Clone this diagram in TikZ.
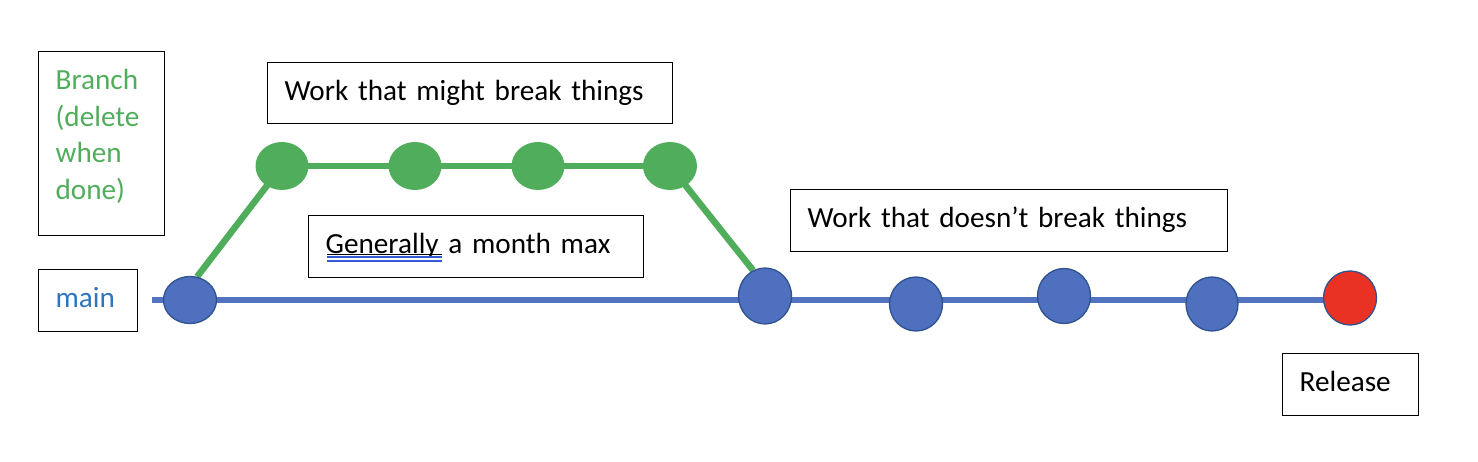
\documentclass[tikz,border=0pt]{standalone}
\usepackage{fontspec}
\setmainfont{Carlito}
\usetikzlibrary{shapes.geometric}
\pgfdeclarelayer{background}
\pgfsetlayers{background,main}
\definecolor{cblue}{RGB}{78,112,190}
\definecolor{cline}{RGB}{82,116,192}
\definecolor{cedge}{RGB}{47,82,143}
\definecolor{cgreen}{RGB}{80,173,91}
\definecolor{cred}{RGB}{233,50,35}
\definecolor{ctblue}{RGB}{46,116,190}
\definecolor{culine}{RGB}{50,90,215}
\tikzset{
  x=1pt, y=-1pt,
  txt/.style={font=\fontsize{29.2pt}{36.5pt}\selectfont},
  box/.style={txt, draw=black, line width=1.3pt, anchor=north west, align=left,
    inner xsep=17pt, inner ysep=0pt},
  onebox/.style={box, text height=20pt, text depth=6pt},
  bcommit/.style={ellipse, draw=cedge, line width=1.3pt, fill=cblue, inner sep=0pt},
  rcommit/.style={ellipse, draw=cedge, line width=1.3pt, fill=cred, inner sep=0pt},
  gcommit/.style={ellipse, fill=cgreen, inner sep=0pt, minimum width=53pt, minimum height=48pt},
  mainline/.style={draw=cline, line width=6.5pt},
  branchline/.style={draw=cgreen, line width=6.5pt},
}
\begin{document}
\begin{tikzpicture}
\path[use as bounding box] (0,0) rectangle (1478,462);

% text boxes
\node[box, text=cgreen, text width=92pt, minimum height=184pt] (branch) at (38,51)
  {Branch\\(delete\\when\\done)\rule[-19pt]{0pt}{0pt}};
\node[onebox, text=ctblue, text width=65pt, minimum height=62pt] (mainlbl) at (38,269) {main};
\node[onebox, text width=371pt, minimum height=61pt] (wmb) at (267,62) {\mbox{Work that might break things}};
\node[onebox, text width=301pt, minimum height=62pt] (gen) at (308,215) {\mbox{Generally a month max}};
\node[onebox, text width=403pt, minimum height=62pt] (wdb) at (790,189) {\mbox{Work that doesn’t break things}};
\node[onebox, text width=102pt, minimum height=62pt] (rel) at (1282,353) {Release};

% underline of "Generally"
\draw[black, line width=1.3pt] ([xshift=19pt, yshift=-1pt]gen.base west) -- ([xshift=134pt, yshift=-1pt]gen.base west);
\draw[culine, line width=1.3pt] ([xshift=19pt, yshift=-3.5pt]gen.base west) -- ([xshift=134pt, yshift=-3.5pt]gen.base west);
\draw[culine, line width=1.3pt] ([xshift=19pt, yshift=-7.5pt]gen.base west) -- ([xshift=134pt, yshift=-7.5pt]gen.base west);

% commits on main
\node[bcommit, minimum width=53pt, minimum height=47pt] (b1) at (190,300) {};
\node[bcommit, minimum width=53pt, minimum height=56pt] (b2) at (765,296) {};
\node[bcommit, minimum width=53pt, minimum height=54pt] (b3) at (916,304) {};
\node[bcommit, minimum width=53pt, minimum height=55pt] (b4) at (1064,296) {};
\node[bcommit, minimum width=52pt, minimum height=54pt] (b5) at (1212,304) {};
\node[rcommit, minimum width=53pt, minimum height=54pt] (rel1) at (1350,298) {};

% commits on branch
\node[gcommit] (g1) at (282,166) {};
\node[gcommit] (g2) at (415,166) {};
\node[gcommit] (g3) at (538,166) {};
\node[gcommit, minimum width=54pt] (g4) at (670,166) {};

\coordinate (mstart) at (152,300);

\begin{pgfonlayer}{background}
\draw[mainline] (mstart) -- (mstart -| rel1.center);
\draw[branchline] (g1.center) -- (g4.center);
\draw[branchline] (b1.73) -- (g1.center);
\draw[branchline] (g4.center) -- (b2.115);
\end{pgfonlayer}
\end{tikzpicture}
\end{document}
